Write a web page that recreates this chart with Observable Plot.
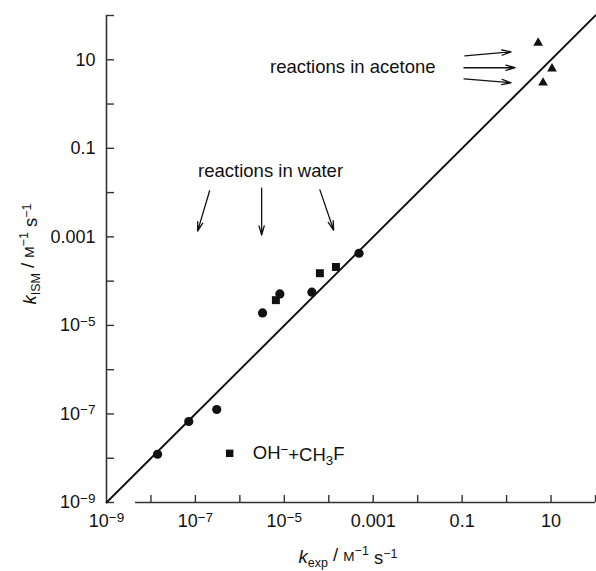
<!DOCTYPE html>
<html>
<head>
<meta charset="utf-8">
<script src="https://cdn.jsdelivr.net/npm/d3@7"></script>
<script src="https://cdn.jsdelivr.net/npm/@observablehq/plot@0.6"></script>
<style>
  html, body { margin: 0; padding: 0; background: #fff; }
  #chart svg { display: block; font-family: "Liberation Sans", Arial, Helvetica, sans-serif; }
</style>
</head>
<body>
<div id="chart"></div>
<script>
// ---- data (k_exp, k_ISM in M^-1 s^-1) ----
const circleExp = [1.41e-8, 7.08e-8, 3.02e-7, 3.24e-6, 7.94e-6, 4.17e-5, 4.79e-4];
const circleIsm = [1.23e-8, 6.76e-8, 1.26e-7, 1.91e-5, 5.13e-5, 5.62e-5, 4.27e-4];
const squareExp = [6.46e-6, 6.31e-5, 1.45e-4];
const squareIsm = [3.72e-5, 1.51e-4, 2.09e-4];
const triangleExp = [5.13, 10.5, 6.61];
const triangleIsm = [24.0, 6.31, 3.02];

const diagonal = [1e-9, 100];
const decadeTicks = [1e-9, 1e-8, 1e-7, 1e-6, 1e-5, 1e-4, 1e-3, 1e-2, 1e-1, 1, 10, 100];
const labelTicks = [1e-9, 1e-7, 1e-5, 1e-3, 1e-1, 10];
const tickLabels = ["10^−9", "10^−7", "10^−5", "0.001", "0.1", "10"];
const xAxisStart = 4.5e-9;

// annotations
const acetoneArrowX1 = [0.115, 0.110, 0.110];
const acetoneArrowY1 = [12.3, 6.61, 3.72];
const acetoneArrowX2 = [1.26, 1.55, 1.26];
const acetoneArrowY2 = [15.1, 6.61, 3.02];
const waterArrowX1 = [2.09e-7, 3.09e-6, 6.31e-5];
const waterArrowY1 = [0.0110, 0.0126, 0.0115];
const waterArrowX2 = [1.12e-7, 3.09e-6, 1.29e-4];
const waterArrowY2 = [1.35e-3, 1.10e-3, 1.41e-3];
const noteTexts = ["reactions in acetone", "reactions in water"];
const noteX = [3.47e-4, 4.9e-6];
const noteY = [6.9, 0.031];
const legendSquareX = [5.9e-7];
const legendTextX = [1.95e-6];
const legendY = [1.29e-8];
const legendText = ["OH^−+CH_3F"];

// ---- tables built from the arrays ----
const circles = circleExp.map((x, i) => ({x, y: circleIsm[i]}));
const squares = squareExp.map((x, i) => ({x, y: squareIsm[i]}));
const triangles = triangleExp.map((x, i) => ({x, y: triangleIsm[i]}));
const arrows = [
  ...acetoneArrowX1.map((_, i) => ({x1: acetoneArrowX1[i], y1: acetoneArrowY1[i], x2: acetoneArrowX2[i], y2: acetoneArrowY2[i]})),
  ...waterArrowX1.map((_, i) => ({x1: waterArrowX1[i], y1: waterArrowY1[i], x2: waterArrowX2[i], y2: waterArrowY2[i]}))
];
const notes = noteTexts.map((t, i) => ({t, x: noteX[i], y: noteY[i]}));
const fmt = d => tickLabels[labelTicks.indexOf(d)] ?? "";

const ink = "#111";
const axisInk = "#333";

const plot = Plot.plot({
  width: 596,
  height: 571,
  marginLeft: 106,
  marginRight: 1,
  marginTop: 15,
  marginBottom: 69,
  style: {fontFamily: "Liberation Sans, Arial, sans-serif", color: ink, background: "#fff"},
  x: {type: "log", domain: [1e-9, 100]},
  y: {type: "log", domain: [1e-9, 100]},
  marks: [
    // axis lines
    Plot.ruleX([1e-9], {stroke: axisInk, strokeWidth: 1.6}),
    Plot.ruleY([1e-9], {x1: xAxisStart, x2: 100, stroke: axisInk, strokeWidth: 1.6}),
    // inward ticks
    Plot.axisY({ticks: decadeTicks, tickSize: -8, tickPadding: 0, tickFormat: () => "", stroke: axisInk, strokeWidth: 1.4, label: null}),
    Plot.axisX({ticks: decadeTicks.filter(d => d > 1e-9), tickSize: -7, tickPadding: 0, tickFormat: () => "", stroke: axisInk, strokeWidth: 1.4, label: null}),
    // tick labels
    Plot.axisY({ticks: labelTicks, tickSize: 0, tickPadding: 11, tickFormat: fmt, fontSize: 18, fill: ink, label: null}),
    Plot.axisX({ticks: labelTicks, tickSize: 0, tickPadding: 12, tickFormat: fmt, fontSize: 18, fill: ink, label: null}),
    // y = x line
    Plot.line(diagonal, {x: d => d, y: d => d, stroke: ink, strokeWidth: 1.9}),
    // data
    Plot.dot(circles, {x: "x", y: "y", symbol: "circle", r: 4.6, fill: ink}),
    Plot.dot(squares, {x: "x", y: "y", symbol: "square", r: 4.5, fill: ink}),
    Plot.dot(triangles, {x: "x", y: "y", symbol: "triangle", r: 3.6, fill: ink}),
    // annotations
    Plot.arrow(arrows, {x1: "x1", y1: "y1", x2: "x2", y2: "y2", stroke: ink, strokeWidth: 1.3, headLength: 11, headAngle: 32}),
    Plot.text(notes, {x: "x", y: "y", text: "t", fontSize: 18.5, fill: ink}),
    Plot.dot(legendSquareX, {x: d => d, y: () => legendY[0], symbol: "square", r: 4.2, fill: ink}),
    Plot.text(legendTextX, {x: d => d, y: () => legendY[0], text: () => legendText[0], textAnchor: "start", fontSize: 18.5, fill: ink})
  ]
});

document.getElementById("chart").appendChild(plot);

// rich text: superscripts / subscripts
const svg = d3.select(plot);
svg.selectAll("text").each(function () {
  const t = this.textContent;
  let m = t.match(/^10\^(.+)$/);
  if (m) {
    const s = d3.select(this);
    s.text("");
    s.append("tspan").text("10");
    s.append("tspan").attr("dy", "-0.42em").attr("font-size", "0.75em").text(m[1]);
    return;
  }
  if (t === legendText[0]) {
    const s = d3.select(this);
    s.text("");
    s.append("tspan").text("OH");
    s.append("tspan").attr("dy", "-0.42em").attr("font-size", "0.72em").text("−");
    s.append("tspan").attr("dy", "0.42em").text("+CH");
    s.append("tspan").attr("dy", "0.3em").attr("font-size", "0.72em").text("3");
    s.append("tspan").attr("dy", "-0.3em").text("F");
  }
});

function unitLabel(g, sub) {
  g.append("tspan").attr("font-style", "italic").text("k");
  g.append("tspan").attr("dy", "0.28em").attr("font-size", "12.5px").text(sub);
  g.append("tspan").attr("dy", "-0.28em").text(" / ");
  g.append("tspan").attr("font-size", "13.5px").text("M");
  g.append("tspan").attr("dy", "-0.5em").attr("font-size", "12.5px").text("−1");
  g.append("tspan").attr("dy", "0.5em").text(" s");
  g.append("tspan").attr("dy", "-0.5em").attr("font-size", "12.5px").text("−1");
}
const xl = svg.append("text")
  .attr("x", 348).attr("y", 563)
  .attr("text-anchor", "middle").attr("font-size", "18.5px").attr("fill", ink);
unitLabel(xl, "exp");
const yl = svg.append("text")
  .attr("transform", "translate(36,254) rotate(-90)")
  .attr("text-anchor", "middle").attr("font-size", "18.5px").attr("fill", ink);
unitLabel(yl, "ISM");
</script>
</body>
</html>
